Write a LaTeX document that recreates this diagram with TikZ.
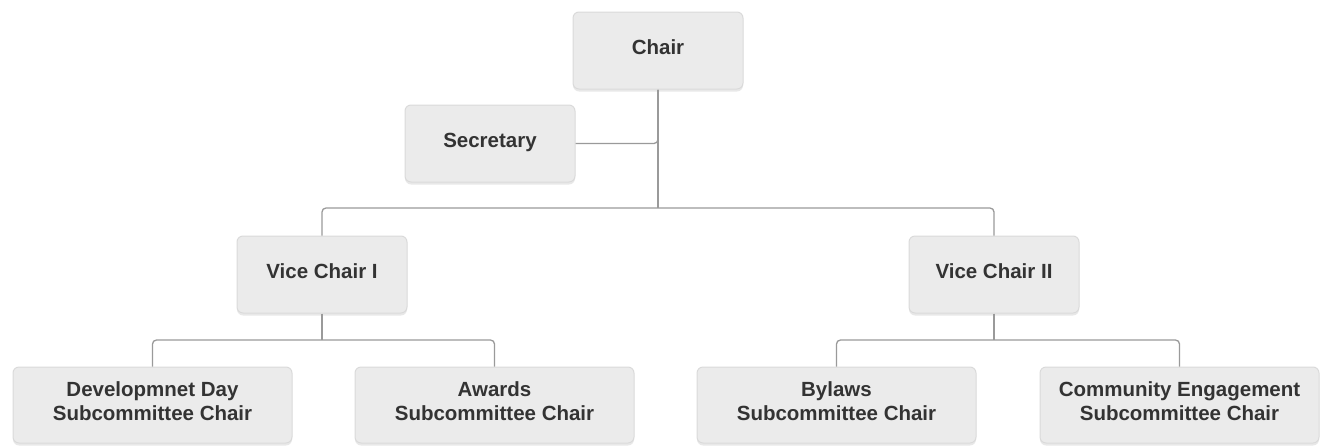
\documentclass[tikz,border=0pt]{standalone}
\usepackage{fontspec}
\setmainfont{Liberation Sans}
\usetikzlibrary{shadows}
\definecolor{boxfill}{HTML}{EBEBEB}
\definecolor{boxline}{HTML}{DADADA}
\definecolor{txt}{HTML}{333333}
\definecolor{conn}{HTML}{9A9A9A}
\begin{document}
\begin{tikzpicture}[x=1pt,y=-1pt,
  orgbox/.style={draw=boxline, line width=1pt, fill=boxfill, rounded corners=6pt,
    drop shadow={opacity=0.18, shadow xshift=0pt, shadow yshift=-2.5pt},
    text=txt, font=\fontsize{20.5}{24}\selectfont\bfseries, align=center,
    inner sep=0pt},
  small/.style={orgbox, minimum width=170pt, minimum height=77pt,
    text height=14pt, text depth=6pt},
  wide/.style={orgbox, minimum width=279pt, minimum height=76pt,
    text height=38pt, text depth=7pt},
  link/.style={draw=conn, line width=1.3pt, rounded corners=4pt}]
\useasboundingbox (0,0) rectangle (1322,445);
\node[small] (chair) at (658,50.5) {Chair};
\node[small] (sec) at (490,143.5) {Secretary};
\node[small] (vc1) at (322,274.5) {Vice Chair I};
\node[small] (vc2) at (994,274.5) {Vice Chair II};
\node[wide] (dev) at (152.5,405) {Developmnet Day\\Subcommittee Chair};
\node[wide] (awd) at (494.5,405) {Awards\\Subcommittee Chair};
\node[wide] (byl) at (836.5,405) {Bylaws\\Subcommittee Chair};
\node[wide] (com) at (1179.5,405) {Community Engagement\\Subcommittee Chair};
\coordinate (j1) at (658,208);
\coordinate (j2) at (322,340);
\coordinate (j3) at (994,340);
\draw[link] (chair.south) -- (j1);
\draw[link] (sec.east) -| (chair.south);
\draw[link] (vc1.north) |- (j1) -| (vc2.north);
\draw[link] (vc1.south) -- (j2);
\draw[link] (dev.north) |- (j2) -| (awd.north);
\draw[link] (vc2.south) -- (j3);
\draw[link] (byl.north) |- (j3) -| (com.north);
\end{tikzpicture}
\end{document}
